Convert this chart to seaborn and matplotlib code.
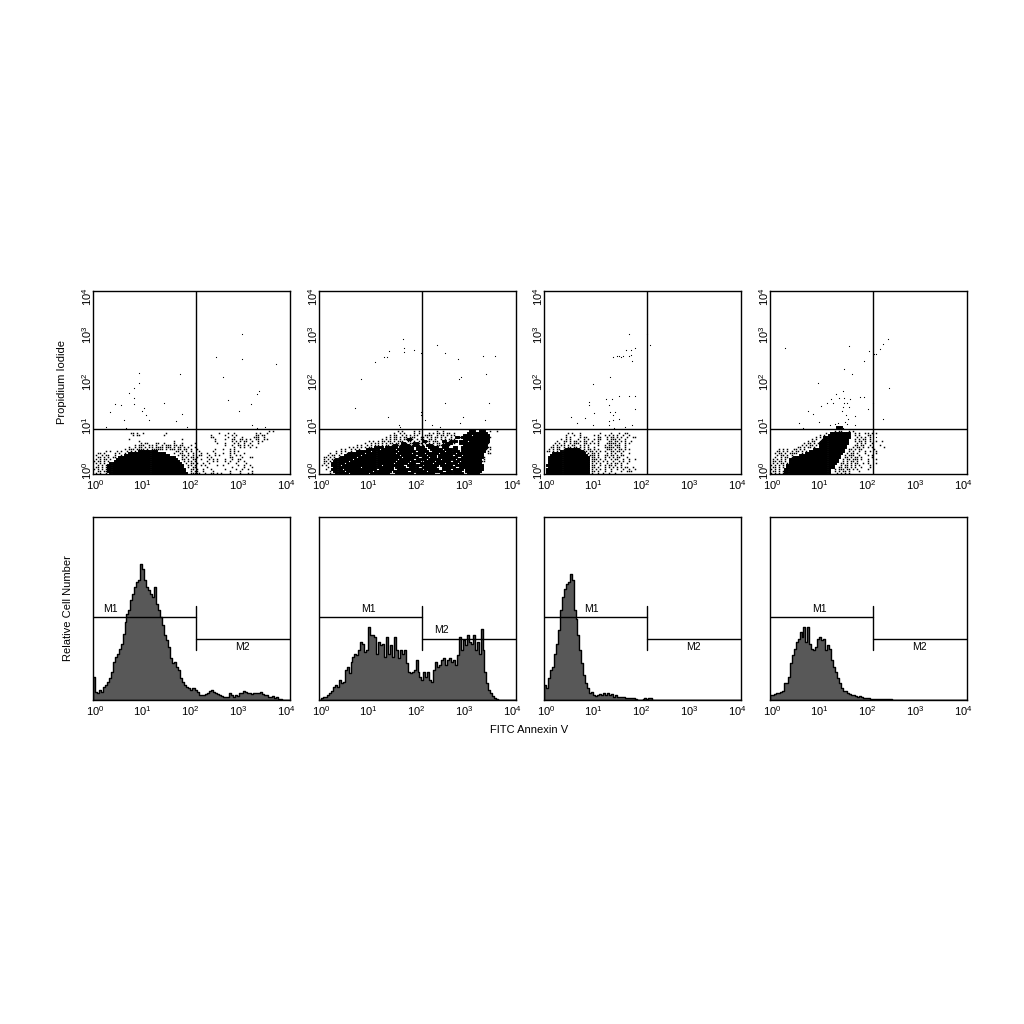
import numpy as np
import matplotlib
matplotlib.use("Agg")
import matplotlib.pyplot as plt
from matplotlib.ticker import NullLocator
from matplotlib.transforms import ScaledTranslation
import seaborn as sns

sns.set_theme(style="white")
plt.rcParams["font.family"] = ["Liberation Sans", "DejaVu Sans"]
plt.rcParams["text.color"] = "black"
plt.rcParams["axes.labelcolor"] = "black"

DECADES = [1, 10, 100, 1000, 10000]
DECADE_LABELS = [r"$\mathdefault{10^{%d}}$" % i for i in range(5)]
GATE_X = 123
GATE_Y = 9.5
M1_LEVEL = 249
M2_LEVEL = 184
M_TICK = (151, 283)

# Histograms: relative counts per log channel
HIST_1 = [70,25,20,30,25,40,45,55,65,85,115,130,140,155,170,200,235,260,270,300,320,340,355,360,410,395,360,340,330,320,310,340,290,270,250,225,195,180,160,125,110,115,100,90,65,55,45,40,35,30,35,35,30,25,15,15,15,18,22,28,30,25,20,18,15,12,10,10,10,20,15,10,15,12,20,22,28,25,20,22,18,20,22,20,22,25,18,15,15,10,8,12,5,8,4,2,1,0,0,0]
HIST_2 = [0,5,10,8,15,20,28,38,45,40,60,50,55,90,100,80,115,130,140,135,150,175,170,145,150,220,195,195,190,140,175,165,170,130,190,140,165,130,190,150,125,150,140,150,110,85,80,85,90,120,85,70,60,85,70,85,60,55,90,115,100,105,120,125,105,120,125,115,120,105,135,190,150,180,165,195,175,170,195,150,175,140,215,150,85,50,30,20,12,6,2,0,0,0,0,0,0,0,0,0]
HIST_3 = [45,35,65,90,100,140,170,210,270,310,335,350,355,380,360,270,245,195,150,110,75,50,35,20,25,15,12,15,18,15,20,15,22,15,18,10,14,8,10,8,8,7,6,6,6,6,4,1,1,1,2,6,3,6,5,1,0,0,0,0,0,0,0,0,0,0,0,0,0,0,0,0,0,0,0,0,0,0,0,0,0,0,0,0,0,0,0,0,0,0,0,0,0,0,0,0,0,0,0,0]
HIST_4 = [15,15,18,20,22,24,28,50,50,70,110,135,155,175,185,205,190,220,175,220,170,155,150,160,185,190,180,185,150,165,155,120,100,85,65,50,35,28,28,22,18,15,15,12,10,12,8,6,7,6,5,4,4,3,4,4,3,3,4,3,3,3,1,0,0,0,0,0,0,0,0,0,0,0,0,0,0,0,0,0,0,0,0,0,0,0,0,0,0,0,0,0,0,0,0,0,0,0,0,0]

# Sparse events: log10 annexin, log10 PI
DOTS_X_1 = [3.02,3.02,2.49,3.71,2.64,1.76,0.93,0.93,0.83,0.73,0.84,2.75,3.38,3.32,3.21,0.45,0.56,0.35,0.84,1.44,1.04,0.99,1.08,1.13,0.63,1.69,1.80,2.96,0.27,0.66,1.91,3.23,3.34,3.50]
DOTS_Y_1 = [3.05,2.52,2.56,2.41,2.12,2.18,2.21,1.99,1.89,1.76,1.67,1.61,1.81,1.75,1.53,1.53,1.51,1.36,1.53,1.56,1.45,1.38,1.30,1.18,1.18,1.16,1.32,1.38,1.03,1.01,1.03,1.07,1.01,1.03]
DOTS_X_2 = [1.71,1.73,1.73,1.92,1.43,2.07,2.40,2.55,2.82,3.34,3.58,1.14,1.31,1.38,0.86,2.88,2.85,3.40,0.74,2.55,3.46,1.41,2.07,2.07,2.16,2.92,3.38,1.62,2.29,2.46,2.86,1.65]
DOTS_Y_2 = [2.96,2.76,2.67,2.72,2.69,2.65,2.82,2.65,2.52,2.58,2.58,2.45,2.56,2.56,2.07,2.12,2.07,2.19,1.44,1.55,1.55,1.24,1.36,1.29,1.19,1.24,1.19,1.08,1.08,1.03,1.11,1.03]
DOTS_X_3 = [1.72,2.10,2.15,1.85,1.76,1.67,1.77,1.73,1.78,1.40,1.48,1.52,1.57,1.60,1.35,1.00,1.25,1.39,1.52,1.72,1.85,0.91,0.91,1.31,1.85,1.01,1.35,1.45,1.40,0.55,0.83,0.67,1.00,1.32,1.32,1.40,1.52,1.64,1.79,1.43]
DOTS_Y_3 = [3.07,3.05,2.81,2.76,2.70,2.70,2.60,2.57,2.48,2.55,2.57,2.57,2.56,2.57,2.12,1.96,1.65,1.65,1.70,1.70,1.70,1.58,1.50,1.51,1.41,1.33,1.36,1.36,1.30,1.25,1.22,1.12,1.08,1.16,1.08,1.19,1.20,1.03,1.08,1.00]
DOTS_X_4 = [0.30,1.60,2.39,2.29,2.24,2.00,2.12,2.15,1.90,1.51,1.66,0.97,2.42,1.48,1.33,1.24,1.41,1.51,1.62,1.83,1.91,1.15,1.27,1.03,0.78,0.87,1.51,1.56,1.61,1.49,1.99,2.10,1.46,1.54,1.73,2.29,0.99,0.58,0.68,1.22,1.32,1.39,1.52,1.73,1.42,1.49,1.59,1.57,2.10,2.15]
DOTS_Y_4 = [2.76,2.79,2.96,2.84,2.73,2.68,2.62,2.62,2.47,2.30,2.18,1.98,1.87,1.81,1.75,1.64,1.67,1.67,1.64,1.69,1.69,1.56,1.56,1.49,1.38,1.32,1.56,1.56,1.47,1.47,1.41,1.56,1.38,1.29,1.27,1.21,1.14,1.11,1.01,1.08,1.09,1.12,1.14,1.07,1.01,1.00,1.21,1.09,0.32,0.80]

# Dense events: occupied channel runs (row, first column, last column), channels 0.042 log wide
RUNS_1 = [(11,22,31),(10,17,35),(9,15,37),(8,12,40),(7,11,41),(6,10,42),(5,8,43),(4,7,44),(3,7,44),(2,7,45),(1,7,45),(0,8,46)]
RUNS_2 = [(21,73,76),(21,78,81),(20,72,82),(19,70,74),(19,75,83),(18,69,83),(18,66,68),(17,70,83),(17,43,45),(16,68,72),(16,73,83),(16,50,52),(16,60,62),(16,64,67),
 (15,68,82),(15,46,48),(15,40,42),(15,62,65),(14,70,82),(14,40,44),(14,36,38),(14,46,48),(14,52,55),(14,60,63),
 (13,27,31),(13,32,38),(13,39,46),(13,47,51),(13,53,58),(13,60,63),(13,65,67),(13,69,82),
 (12,23,29),(12,30,37),(12,38,46),(12,47,52),(12,54,60),(12,61,67),(12,69,81),
 (11,18,25),(11,26,38),(11,39,47),(11,48,53),(11,55,61),(11,62,68),(11,69,81),
 (10,14,22),(10,23,37),(10,38,45),(10,46,51),(10,52,58),(10,59,66),(10,67,80),
 (9,12,20),(9,21,39),(9,40,47),(9,48,52),(9,53,57),(9,58,65),(9,66,69),(9,70,80),
 (8,10,18),(8,19,40),(8,41,48),(8,50,53),(8,54,57),(8,58,67),(8,69,80),
 (7,8,16),(7,17,38),(7,39,46),(7,47,52),(7,53,59),(7,60,66),(7,67,79),
 (6,7,14),(6,15,37),(6,38,44),(6,45,49),(6,51,56),(6,57,64),(6,65,68),(6,69,79),
 (5,6,12),(5,13,36),(5,37,43),(5,44,47),(5,49,55),(5,56,61),(5,62,67),(5,68,79),
 (4,6,10),(4,11,30),(4,31,41),(4,43,50),(4,51,58),(4,59,65),(4,66,80),
 (3,7,20),(3,21,36),(3,37,42),(3,44,48),(3,50,57),(3,60,66),(3,68,80),
 (2,6,11),(2,12,28),(2,29,36),(2,38,50),(2,51,58),(2,60,64),(2,65,70),(2,71,80),
 (1,7,12),(1,13,26),(1,27,35),(1,36,43),(1,45,52),(1,53,60),(1,62,69),(1,71,79),
 (0,8,14),(0,15,24),(0,25,34),(0,37,46),(0,47,56),(0,59,70),(0,72,78)]
RUNS_3 = [(12,10,17),(11,8,19),(10,4,20),(9,3,21),(8,2,22),(7,2,22),(6,2,22),(5,2,22),(4,1,22),(3,2,22),(2,1,22),(1,1,22),(0,1,22)]
RUNS_4 = [(23,32,35),(20,29,39),(19,28,39),(18,26,39),(17,26,38),(16,25,38),(15,24,38),(14,24,37),(13,24,37),(12,21,36),(11,19,36),(10,17,35),(9,14,34),(8,11,34),(7,9,33),(6,9,33),(5,9,32),(4,8,31),(3,8,31),(2,7,29),(1,7,29),(0,7,29)]

# Scattered events near the dense clusters: one string per row, top row first ('.' = event)
FRINGE_1 = [
"                                                                                     . .",
"                  .. .  .          .                         .   .  .          . .  .",
"                   . ..           .                      .      .  . .         .. .. ",
"                                                         ..      .  .   .     ...  .",
"                 .                         .               .    .  ..  .. . .  ..  ..",
"                      .                .                   .       . . . ..  .  . .",
"                       . ..   ..  .    .   .     .          .   .   . .  .  .   .",
"                    . ...  .. .  . ... .. ..   .                .  .  .. . . .",
"                 .  . .. . .. .... ... . .. . .  .                  .  . .  .  .",
"               . ... .... . ...... . ... .. .. .  .        .   .  . .",
"      . .  . .  . . . .                 .. . . .   .      .       . . .",
"  .. .    . .  .                       .  ..  . .   .  .   .   .  . .    .",
" .  . ..  .  .                           . .. . .  ..   .  . .    .  . .",
"  .. . . ..                                . . .. .    . .        ..    .   ..",
" . . .. .                                  .. . ..  .   . . .   .  .  ..",
". .. . .                                    . .. .     .  . .   . .   .  .",
" . . .                                       . .. .  .  .        .   .    .  ",
"  . . .                                       .. .  . .     .  .      .  .  . ",
" .. . .                                       . ..     .           .     .   .",
". . . .                                        .. .  .   .      .    .  .  .  ",
"  .. ..                                        . ..  .    .       .    .     . ",
" . .  .                                        .....  .  .. . .   .    .   . .  ",
]
FRINGE_2 = [
"                                      . .     . .        .  .             .        .  .",
"                                    .  . .    . .    . . .. . .. .",
"                                  . ..  . . . ..   ....  . .. . ..    .    .  ",
"                                . . .. . .. ...  .. . . .. . .  .  ...            ..",
"                              . . . .. . .. .. . ..  .. .  . . ...             . ..",
"                        . . . .. .. . ...  .. . . . .. ...  .  ...             .. .",
"                      .  . .. . . .. .. . . ... .. . . . .. ... ..            . . .",
"                  . .  . . .. . .. . ... .  .. .. . . .. ... . .              .. ",
"              . . . . . .. .                                                    . ..",
"          . .  . . .                                                             . .",
"        . . .  .                                                                  .",
"     .  . .  .                                                                    ..",
"    . .. .                                                                     . ",
"  .. . . .                                                                      .",
"  . . ..                                                                        .",
"  .. .                                                                         ..",
"  . .",
" . .",
"    .",
"   .",
"     .",
"     .",
]
FRINGE_3 = [
"",
"           . .   .         .    .   .  ..  ",
"          .   .  .      . .  . . . .  .  .",
"          . .    . ..     ..  . .. . .  .  ..",
"        . . .   .  . .  . ..  . ... .  .",
"      .  .. . .. . ..  .  .    .. .. . .  . ",
"     . . .  . ...  .. . . .   ..... .  . .",
"    . . .. . ..  . . .    .  . .. ...  . ",
"   .. .. . .. .. . . .  .    ..... ..  .",
"  . . .. .       . . .. . .   ... . .. . .",
" .. . .            .. .. . . .  .. .. . ",
"                     . .. .   . . .  .   .  ",
"                      ... .  .. .. . .. ",
"                       .. .  . . . ..   .",
"                       ... . .  . ..  .  .  .",
"                       .. . . .  .  . .  . ",
"                       . . .  . . .. .  .",
"                       ..  . . .. .  .   ",
"                       .. .  . . . . . ..  .",
"                       . . . .  .  .  .  .  .",
"                       .. .  .  .    .  ...",
"                       .  . .  .  .  ",
]
FRINGE_4 = [
"                               . ..   . .",
"                           . .           . .  .. . .",
"                        . .              . .   .. ",
"                      . . .               . . . .",
"                    . .  .               . . .. .",
"                  . ..  .                . .. . .  .  .",
"                . .. . .                  . . .  . ",
"               . . .. .                  .. ..  .    .",
"             .. . .. .                  . .. . . .     .",
"    . . .  .. . .                     .. . ..     .",
"   .. . . . .. . .                    . .  .  . .  .",
"  . .. . ....  .                     . .. .   .    .",
"   . .. . .                         . ...  .   . .",
"  .  . .. .                         .. . .. .    .  ",
" . . . .                           . .. ... .  .   . ",
" .. .. . .                         . . .. .    .    ",
" . . .. .                         .. . . ..  . .   .",
". . . . .                         . .. . . .    .   ",
" .. . . .                        .. .. . .  .   . ",
". . .                          . ... .. . .    .",
" .. . .                        . . .. .    . ",
". . . .                         . . . .   ",
]

HISTS = [HIST_1, HIST_2, HIST_3, HIST_4]
DOTS = [(DOTS_X_1, DOTS_Y_1), (DOTS_X_2, DOTS_Y_2), (DOTS_X_3, DOTS_Y_3), (DOTS_X_4, DOTS_Y_4)]
RUNS = [RUNS_1, RUNS_2, RUNS_3, RUNS_4]
FRINGES = [FRINGE_1, FRINGE_2, FRINGE_3, FRINGE_4]

# Layout, in reference pixels
W = H = 1024
PANEL_LEFT = [93, 319, 544, 770]
PANEL_W = 197
TOP_ROW = (291, 474)
BOTTOM_ROW = (517, 700)
X_TICK_SHIFT = [2, 0, -1.5, -3, -4]
Y_TICK_SHIFT = [3.3, 2.5, 0.8, 2, -5.7]
M1_X = [0.09, 0.25, 0.24, 0.25]
M2_POS = [(0.76, 0.29), (0.62, 0.38), (0.76, 0.29), (0.76, 0.29)]
CHANNEL_X = 0.0417
CHANNEL_Y = 0.0435

fig = plt.figure(figsize=(W / 100, H / 100), dpi=100, facecolor="white")


def panel(left, row):
    top, bottom = row
    ax = fig.add_axes([left / W, 1 - bottom / H, PANEL_W / W, (bottom - top) / H])
    for s in ax.spines.values():
        s.set_linewidth(1.0)
        s.set_color("black")
        s.set_visible(True)
    return ax


def style_x(ax):
    ax.set_xscale("log")
    ax.set_xlim(1, 1e4)
    ax.set_xticks(DECADES, DECADE_LABELS, fontsize=8)
    ax.xaxis.set_minor_locator(NullLocator())
    ax.tick_params(axis="x", length=0, pad=3, colors="black")
    ax.tick_params(axis="y", length=0, pad=-1, colors="black")
    for lab, dx in zip(ax.get_xticklabels(), X_TICK_SHIFT):
        lab.set_transform(lab.get_transform() + ScaledTranslation(dx / 100, 0, fig.dpi_scale_trans))
    ax.grid(False)


for i, left in enumerate(PANEL_LEFT):
    # Dot plot
    ax = panel(left, TOP_ROW)
    cols, rows = [], []
    for r, a, b in RUNS[i]:
        for c in range(a, b):
            cols.append(c)
            rows.append(r)
    cx = (np.array(cols) + 0.5) * CHANNEL_X
    cy = (np.array(rows) + 0.5) * CHANNEL_Y
    sns.scatterplot(x=10 ** cx, y=10 ** cy, marker="s", s=4.5, color="black", linewidth=0,
                    ax=ax, legend=False, snap=False)
    fx, fy = [], []
    n = len(FRINGES[i])
    for k, line in enumerate(FRINGES[i]):
        for c, ch in enumerate(line):
            if ch != " ":
                fx.append((c + 0.5) * CHANNEL_X)
                fy.append((n - 1 - k + 0.5) * CHANNEL_Y)
    sns.scatterplot(x=10 ** np.array(fx), y=10 ** np.array(fy), marker="s", s=1.1, color="black",
                    linewidth=0, ax=ax, legend=False, snap=False)
    sns.scatterplot(x=10 ** np.array(DOTS[i][0]), y=10 ** np.array(DOTS[i][1]), marker="s", s=0.6,
                    color="black", linewidth=0, ax=ax, legend=False, snap=False)
    ax.set_yscale("log")
    ax.set_ylim(1, 1e4)
    style_x(ax)
    ax.set_yticks(DECADES, DECADE_LABELS, fontsize=8, rotation=90, va="center")
    ax.yaxis.set_minor_locator(NullLocator())
    for lab, dy in zip(ax.get_yticklabels(), Y_TICK_SHIFT):
        lab.set_transform(lab.get_transform() + ScaledTranslation(0, dy / 100, fig.dpi_scale_trans))
    ax.axvline(GATE_X, color="black", lw=1.0)
    ax.axhline(GATE_Y, color="black", lw=1.0)
    ax.set_xlabel("")
    ax.set_ylabel("Propidium Iodide" if i == 0 else "", fontsize=8)
    ax.yaxis.set_label_coords(-26 / PANEL_W, 0.5)

    # Histogram
    ax = panel(left, BOTTOM_ROW)
    vals = np.array(HISTS[i], dtype=float)
    centers = (np.arange(len(vals)) + 0.5) * 4 / len(vals)
    sns.histplot(x=10 ** centers, weights=vals, bins=len(vals), binrange=(0, 4), log_scale=True,
                 element="step", fill=True, color="#585858", edgecolor="black", linewidth=1.0,
                 alpha=1, ax=ax, legend=False)
    ax.set_ylim(0, 551)
    style_x(ax)
    ax.set_yticks([])
    ax.plot([1, GATE_X], [M1_LEVEL, M1_LEVEL], color="black", lw=1.0)
    ax.plot([GATE_X, 1e4], [M2_LEVEL, M2_LEVEL], color="black", lw=1.0)
    ax.plot([GATE_X, GATE_X], M_TICK, color="black", lw=1.0)
    ax.text(M1_X[i], 0.5, "M1", transform=ax.transAxes, fontsize=7.5, ha="center", va="center", color="black")
    ax.text(M2_POS[i][0], M2_POS[i][1], "M2", transform=ax.transAxes, fontsize=7.5, ha="center", va="center", color="black")
    ax.set_xlabel("")
    ax.set_ylabel("Relative Cell Number" if i == 0 else "", fontsize=8)
    ax.yaxis.set_label_coords(-20 / PANEL_W, 0.5)

fig.text(529 / W, 1 - 730 / H, "FITC Annexin V", fontsize=8, ha="center", va="center", color="black")
fig.savefig("out.png", dpi=100)
